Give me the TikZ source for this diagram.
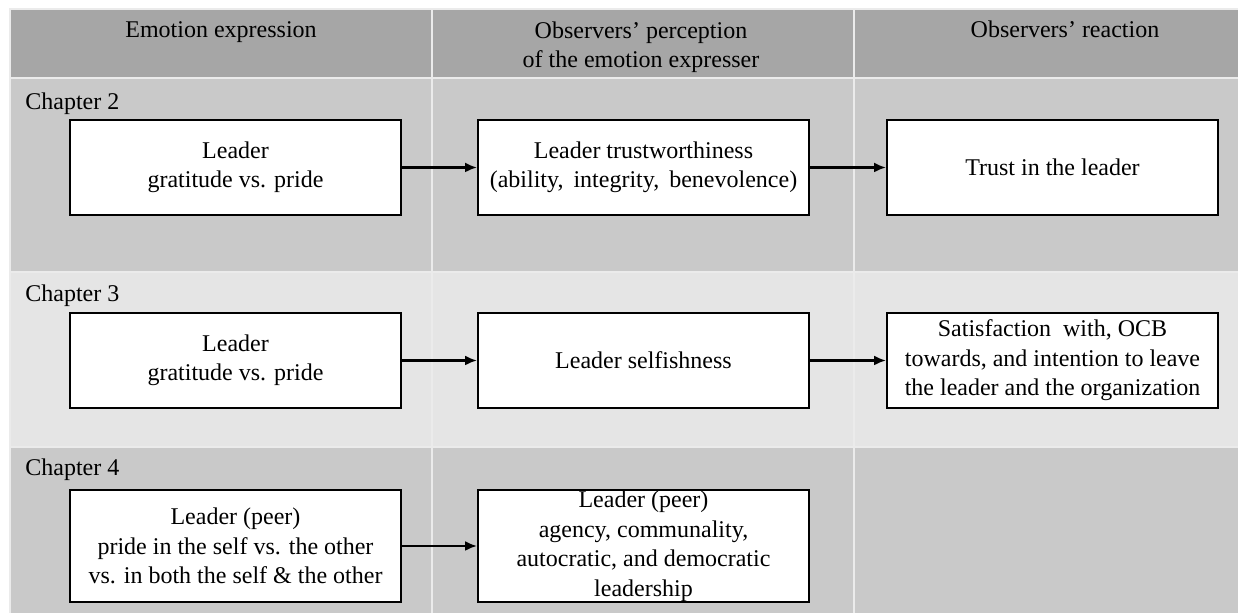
\documentclass[tikz,border=0pt]{standalone}
\usepackage{fontspec}
\setmainfont{Liberation Serif}
\usetikzlibrary{arrows.meta}
\definecolor{hdrgray}{HTML}{A6A6A6}
\definecolor{midgray}{HTML}{C9C9C9}
\definecolor{ltgray}{HTML}{E5E5E5}
\begin{document}
\begin{tikzpicture}[x=0.5pt,y=-0.5pt,font=\fontsize{12}{14.75}\selectfont,
	cell/.style={draw=white!92!black,line width=0.8pt},
	box/.style={draw,fill=white,line width=1pt,minimum width=165.5pt,minimum height=47.5pt,align=center,inner sep=0pt},
	flow/.style={-{Latex[length=6pt,width=5pt]},line width=1.1pt}]
	\useasboundingbox (0,0) rectangle (1238,613);
	\fill[white] (0,0) rectangle (1238,613);
	\foreach \xa/\xb in {10/432,432/854,854/1242}{ %cells
		\filldraw[cell,fill=hdrgray] (\xa,9) rectangle (\xb,78);
		\filldraw[cell,fill=midgray] (\xa,78) rectangle (\xb,272);
		\filldraw[cell,fill=ltgray] (\xa,272) rectangle (\xb,447);
		\filldraw[cell,fill=midgray] (\xa,447) rectangle (\xb,617);
	}
	\node[anchor=base] (hexpr) at (221,38) {Emotion expression}; %header
	\node[anchor=base,align=center] (hperc) at (641,68) {Observers’ perception\\of the emotion expresser};
	\node[anchor=base] (hreact) at (1065,38) {Observers’ reaction};
	\node[anchor=base west,inner sep=0pt] (ch2) at (25,110) {Chapter 2};
	\node[anchor=base west,inner sep=0pt] (ch3) at (25,302) {Chapter 3};
	\node[anchor=base west,inner sep=0pt] (ch4) at (25,476) {Chapter 4};
	% Chapter 2
	\node[box] (expr2) at (235.5,167.5) {Leader\\gratitude vs. pride};
	\node[box] (perc2) at (643.5,167.5) {Leader trustworthiness\\(ability,\, integrity,\, benevolence)};
	\node[box] (react2) at (1052.5,167.5) {Trust in the leader};
	\draw[flow] (expr2)--(perc2);
	\draw[flow] (perc2)--(react2);
	% Chapter 3
	\node[box] (expr3) at (235.5,360.5) {Leader\\gratitude vs. pride};
	\node[box] (perc3) at (643.5,360.5) {Leader selfishness};
	\node[box] (react3) at (1052.5,360.5) {Satisfaction\ \ with,\ OCB\\towards, and intention to leave\\the leader and the organization};
	\draw[flow] (expr3)--(perc3);
	\draw[flow] (perc3)--(react3);
	% Chapter 4
	\node[box,minimum height=56pt] (expr4) at (235.5,546) {Leader (peer)\\pride in the self vs. the other\\vs. in both the self \& the other};
	\node[box,minimum height=56pt] (perc4) at (643.5,546) {Leader (peer)\\agency, communality,\\autocratic, and democratic\\leadership};
	\draw[flow] (expr4)--(perc4);
\end{tikzpicture}
\end{document}
